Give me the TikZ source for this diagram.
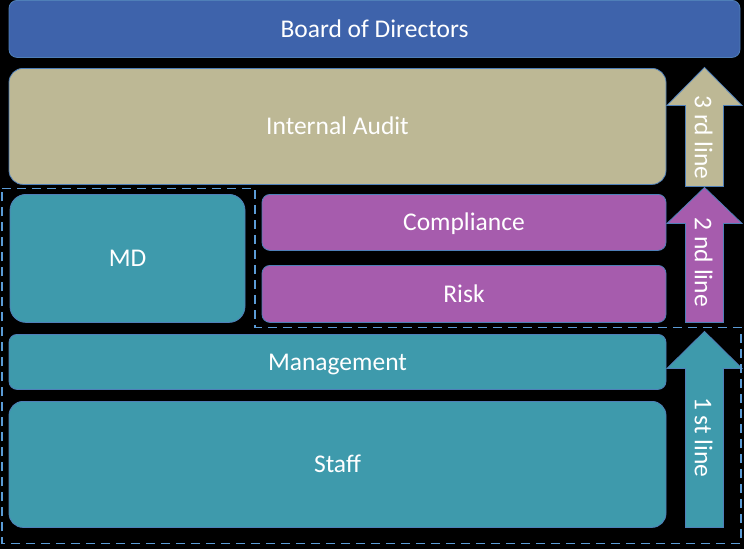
\documentclass[tikz,border=0pt]{standalone}
\usepackage{fontspec}
\setmainfont{Carlito}

\definecolor{boardblue}{HTML}{3E63AB}
\definecolor{audittan}{HTML}{BDB895}
\definecolor{riskpurple}{HTML}{A65CAD}
\definecolor{lineteal}{HTML}{3E9AAC}
\definecolor{edgeblue}{HTML}{4F7FB8}
\definecolor{dashblue}{HTML}{5B9BD5}

\tikzset{
  box/.style={draw=edgeblue,line width=0.8pt,text=white,inner sep=0pt,
    text height=16.4pt,text depth=0pt,font=\fontsize{25.5}{30}\selectfont},
  linetext/.style={text=white,rotate=-90,inner sep=0pt,
    text height=16.4pt,text depth=0pt,font=\fontsize{25.5}{30}\selectfont},
  uparrow/.style={draw=edgeblue,line width=0.8pt},
  firstline/.style={draw=dashblue,line width=1.8pt,dash pattern=on 9pt off 6pt}
}

\begin{document}
\begin{tikzpicture}[x=1pt,y=-1pt]
\fill[black] (0,0) rectangle (744,549);
\node[box,fill=boardblue,rounded corners=8pt,minimum width=731pt,minimum height=57pt] (board) at (374.5,28.5) {Board of Directors};
\node[box,fill=audittan,rounded corners=14pt,minimum width=657pt,minimum height=116pt] (audit) at (337.5,126) {Internal Audit};
\node[box,fill=lineteal,rounded corners=16pt,minimum width=235pt,minimum height=128pt] (md) at (127.5,258) {MD};
\node[box,fill=riskpurple,rounded corners=8pt,minimum width=404pt,minimum height=56pt] (compliance) at (464,222) {Compliance};
\node[box,fill=riskpurple,rounded corners=8pt,minimum width=404pt,minimum height=57pt] (risk) at (464,293.5) {Risk};
\node[box,fill=lineteal,rounded corners=8pt,minimum width=657pt,minimum height=55pt] (management) at (337.5,361.5) {Management};
\node[box,fill=lineteal,rounded corners=14pt,minimum width=657pt,minimum height=126pt] (staff) at (337.5,464) {Staff};
\draw[uparrow,fill=audittan] (685.5,186) -- (685.5,105) -- (667,105) -- (704.5,67) -- (742,105) -- (723.5,105) -- (723.5,186) -- cycle;
\draw[uparrow,fill=riskpurple] (685.5,322) -- (685.5,223) -- (667,223) -- (704.5,187) -- (742,223) -- (723.5,223) -- (723.5,322) -- cycle;
\draw[uparrow,fill=lineteal] (685.5,527) -- (685.5,368) -- (667,368) -- (704.5,331) -- (742,368) -- (723.5,368) -- (723.5,527) -- cycle;
\node[linetext] (third) at (703,137) {3 rd line};
\node[linetext] (second) at (703,262) {2 nd line};
\node[linetext] (first) at (703,437) {1 st line};
\draw[firstline] (2,188) -- (255,188) -- (255,327) -- (741,327) -- (741,543) -- (2,543) -- cycle;
\end{tikzpicture}
\end{document}
